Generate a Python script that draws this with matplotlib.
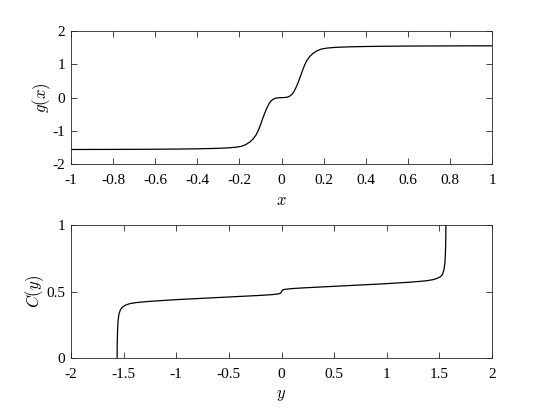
import matplotlib
matplotlib.use("Agg")
import matplotlib.pyplot as plt

# ---- data ----
# top panel: g(x)
x_vals = [-1, -0.8, -0.6, -0.5, -0.4, -0.32, -0.26, -0.22, -0.19, -0.17, -0.15,
          -0.135, -0.12, -0.11, -0.10, -0.09, -0.08, -0.07, -0.06, -0.05, -0.04,
          -0.03, -0.02, -0.01, 0.0, 0.01, 0.02, 0.03, 0.04, 0.05, 0.06, 0.07,
          0.08, 0.09, 0.10, 0.11, 0.12, 0.135, 0.15, 0.17, 0.19, 0.22, 0.26,
          0.32, 0.4, 0.5, 0.6, 0.8, 1]
g_vals = [-1.556, -1.553, -1.548, -1.543, -1.535, -1.524, -1.51, -1.49, -1.46,
          -1.41, -1.33, -1.24, -1.11, -0.98, -0.82, -0.64, -0.47, -0.32, -0.19,
          -0.10, -0.05, -0.02, -0.008, -0.002, 0.0, 0.002, 0.008, 0.02, 0.05,
          0.10, 0.19, 0.32, 0.47, 0.64, 0.82, 0.98, 1.11, 1.24, 1.33, 1.41,
          1.46, 1.49, 1.51, 1.524, 1.535, 1.543, 1.548, 1.553, 1.556]

# bottom panel: C(y)
y_vals = [-1.562, -1.561, -1.558, -1.553, -1.545, -1.53, -1.51, -1.48, -1.44,
          -1.38, -1.3, -1.2, -1.0, -0.8, -0.6, -0.4, -0.2, -0.1, -0.03, -0.01,
          0.0, 0.01, 0.03, 0.1, 0.2, 0.4, 0.6, 0.8, 1.0, 1.2, 1.3, 1.38, 1.44,
          1.48, 1.51, 1.53, 1.545, 1.553, 1.558, 1.561, 1.562]
c_vals = [0.0, 0.1, 0.2, 0.28, 0.33, 0.365, 0.385, 0.40, 0.41, 0.418, 0.424,
          0.43, 0.44, 0.448, 0.456, 0.464, 0.472, 0.477, 0.483, 0.488, 0.5,
          0.512, 0.517, 0.523, 0.528, 0.536, 0.544, 0.552, 0.56, 0.57, 0.576,
          0.582, 0.59, 0.60, 0.612, 0.63, 0.67, 0.72, 0.8, 0.9, 1.0]

top_xticks = [-1, -0.8, -0.6, -0.4, -0.2, 0, 0.2, 0.4, 0.6, 0.8, 1]
top_xticklabels = ["-1", "-0.8", "-0.6", "-0.4", "-0.2", "0", "0.2", "0.4", "0.6", "0.8", "1"]
top_yticks = [-2, -1, 0, 1, 2]
top_yticklabels = ["-2", "-1", "0", "1", "2"]
bot_xticks = [-2, -1.5, -1, -0.5, 0, 0.5, 1, 1.5, 2]
bot_xticklabels = ["-2", "-1.5", "-1", "-0.5", "0", "0.5", "1", "1.5", "2"]
bot_yticks = [0, 0.5, 1]
bot_yticklabels = ["0", "0.5", "1"]

# ---- style ----
plt.rcParams["font.family"] = ["Liberation Serif", "DejaVu Serif"]
plt.rcParams["mathtext.fontset"] = "cm"
plt.rcParams["axes.unicode_minus"] = False
axcol = "#262626"

fig = plt.figure(figsize=(5.45, 4.09), dpi=100)
W, H = 545, 409
def pos(l, r, t, b):
    return [l / W, 1 - b / H, (r - l) / W, (b - t) / H]

ax1 = fig.add_axes(pos(71, 492, 31, 164.3))
ax2 = fig.add_axes(pos(71, 492, 225, 358.3))

ax1.plot(x_vals, g_vals, color="black", lw=0.9)
ax2.plot(y_vals, c_vals, color="black", lw=0.9)

ax1.set_xlim(-1, 1)
ax1.set_ylim(-2, 2)
ax1.set_xticks(top_xticks)
ax1.set_xticklabels(top_xticklabels)
ax1.set_yticks(top_yticks)
ax1.set_yticklabels(top_yticklabels)
ax1.set_xlabel(r"$x$", fontsize=12, labelpad=4)
ax1.set_ylabel(r"$g(x)$", fontsize=12, labelpad=0)

ax2.set_xlim(-2, 2)
ax2.set_ylim(0, 1)
ax2.set_xticks(bot_xticks)
ax2.set_xticklabels(bot_xticklabels)
ax2.set_yticks(bot_yticks)
ax2.set_yticklabels(bot_yticklabels)
ax2.set_xlabel(r"$y$", fontsize=12, labelpad=4)
ax2.set_ylabel(r"$C(y)$", fontsize=12, labelpad=0)

for ax in (ax1, ax2):
    for s in ax.spines.values():
        s.set_color(axcol)
        s.set_linewidth(0.6)
    ax.tick_params(direction="in", top=True, right=True, length=4, width=0.6,
                   colors=axcol, labelsize=11)
    ax.tick_params(axis="x", pad=7)
    ax.tick_params(axis="y", pad=4)
    for lab in ax.get_xticklabels() + ax.get_yticklabels():
        lab.set_color("black")

fig.savefig("out.png", dpi=100)
